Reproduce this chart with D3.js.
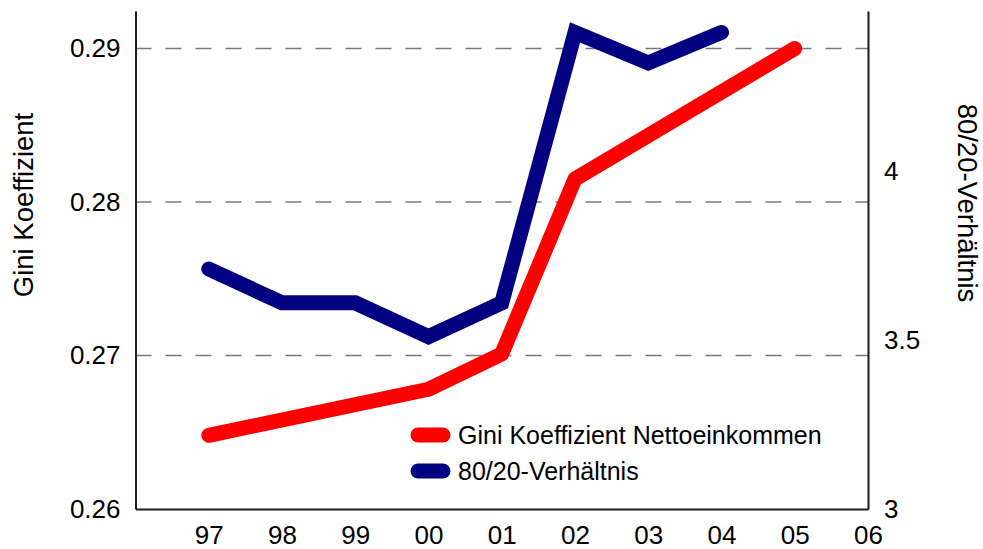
<!DOCTYPE html>
<html>
<head>
<meta charset="utf-8">
<script src="https://cdn.jsdelivr.net/npm/d3@7"></script>
<style>
  html, body { margin: 0; padding: 0; background: #fff; }
  svg { display: block; font-family: "Liberation Sans", Arial, sans-serif; }
</style>
</head>
<body>
<svg id="chart" width="983" height="549"></svg>
<script>
// Years (x positions) and tick labels
const years = [1997, 1998, 1999, 2000, 2001, 2002, 2003, 2004, 2005, 2006];
const yearLabels = ["97", "98", "99", "00", "01", "02", "03", "04", "05", "06"];

// Gini coefficient of net income (left axis)
const giniYears = [1997, 2000, 2001, 2002, 2005];
const giniValues = [0.2648, 0.2678, 0.2701, 0.2815, 0.2900];

// 80/20 ratio (right axis)
const ratioYears = [1997, 1998, 1999, 2000, 2001, 2002, 2003, 2004];
const ratioValues = [3.71, 3.61, 3.61, 3.51, 3.61, 4.41, 4.32, 4.41];

const leftTicks = [0.26, 0.27, 0.28, 0.29];
const gridTicks = [0.27, 0.28, 0.29];
const rightTicks = [3, 3.5, 4];

const seriesNames = ["Gini Koeffizient Nettoeinkommen", "80/20-Verhältnis"];
const seriesColors = ["#ff0000", "#000080"];

const svg = d3.select("#chart");
const plotLeft = 135.5, plotRight = 868, plotTop = 11, plotBottom = 509;

const x = d3.scaleLinear().domain([1996, 2006]).range([plotLeft, plotRight]);
const yL = d3.scaleLinear().domain([0.26, 0.29244]).range([plotBottom, plotTop]);
const yR = d3.scaleLinear().domain([3, 4.4734]).range([plotBottom, plotTop]);

// dashed horizontal gridlines
svg.append("g")
  .selectAll("line")
  .data(gridTicks)
  .join("line")
  .attr("x1", plotLeft).attr("x2", plotRight)
  .attr("y1", d => yL(d)).attr("y2", d => yL(d))
  .attr("stroke", "#7a7a7a")
  .attr("stroke-width", 1.6)
  .attr("stroke-dasharray", "16,14");

// axes
const fontSize = 26;
const axL = svg.append("g").attr("transform", `translate(${plotLeft},0)`)
  .call(d3.axisLeft(yL).tickValues(leftTicks).tickSize(0).tickSizeOuter(0).tickPadding(15).tickFormat(d3.format(".2f")));
const axR = svg.append("g").attr("transform", `translate(${plotRight},0)`)
  .call(d3.axisRight(yR).tickValues(rightTicks).tickSize(0).tickSizeOuter(0).tickPadding(16).tickFormat(d => String(d)));
const axB = svg.append("g").attr("transform", `translate(0,${plotBottom})`)
  .call(d3.axisBottom(x).tickValues(years).tickSize(0).tickSizeOuter(0).tickPadding(17)
    .tickFormat((d, i) => yearLabels[i]));

[axL, axR, axB].forEach(g => {
  g.select(".domain").attr("stroke", "#1a1a1a").attr("stroke-width", 2);
  g.selectAll("text").attr("font-size", fontSize).attr("fill", "#000")
    .attr("font-family", "'Liberation Sans', Arial, sans-serif");
});

// axis titles
svg.append("text")
  .attr("transform", `translate(33,205) rotate(-90)`)
  .attr("text-anchor", "middle")
  .attr("font-size", 27.5)
  .text("Gini Koeffizient");
svg.append("text")
  .attr("transform", `translate(958,203) rotate(90)`)
  .attr("text-anchor", "middle")
  .attr("font-size", 27.5)
  .text("80/20-Verhältnis");

// lines
const ratioLine = d3.line().x((d, i) => x(ratioYears[i])).y(d => yR(d));
const giniLine = d3.line().x((d, i) => x(giniYears[i])).y(d => yL(d));

svg.append("path")
  .datum(ratioValues)
  .attr("d", ratioLine)
  .attr("fill", "none")
  .attr("stroke", seriesColors[1])
  .attr("stroke-width", 15)
  .attr("stroke-linecap", "round")
  .attr("stroke-linejoin", "miter");

svg.append("path")
  .datum(giniValues)
  .attr("d", giniLine)
  .attr("fill", "none")
  .attr("stroke", seriesColors[0])
  .attr("stroke-width", 15)
  .attr("stroke-linecap", "round")
  .attr("stroke-linejoin", "round");

// legend
const legend = svg.append("g").attr("transform", "translate(418,435)");
const rows = legend.selectAll("g").data(seriesNames).join("g")
  .attr("transform", (d, i) => `translate(0,${i * 36})`);
rows.append("line")
  .attr("x1", 0).attr("x2", 25).attr("y1", 0).attr("y2", 0)
  .attr("stroke", (d, i) => seriesColors[i])
  .attr("stroke-width", 15)
  .attr("stroke-linecap", "round");
rows.append("text")
  .attr("x", 40).attr("y", 0).attr("dy", "0.35em")
  .attr("font-size", 25)
  .text(d => d);
</script>
</body>
</html>
